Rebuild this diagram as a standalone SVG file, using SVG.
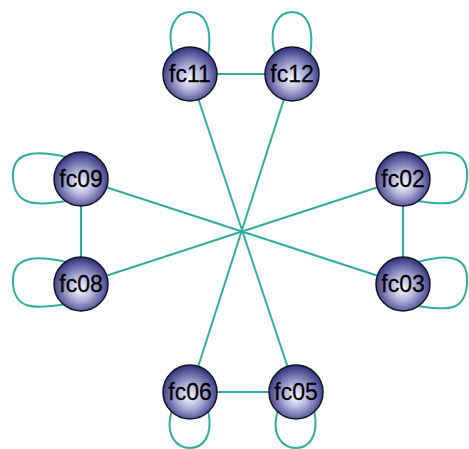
<svg xmlns="http://www.w3.org/2000/svg" width="469" height="449" viewBox="0 0 469 449">
<defs>
<radialGradient id="ball" cx="50%" cy="55%" r="55%" fx="50%" fy="60%">
<stop offset="0" stop-color="#fafafd"/>
<stop offset="0.4" stop-color="#b4b4dc"/>
<stop offset="1" stop-color="#2e2e7c"/>
</radialGradient>
<style>
.e{fill:none;stroke:#30ada0;stroke-width:2}
.n circle{fill:url(#ball);stroke:#141428;stroke-width:1.5}
.n text{font-family:"Liberation Sans",Arial,sans-serif;font-size:23px;fill:#000;stroke:#000;stroke-width:0.3;text-anchor:middle}
</style>
</defs>
<rect width="469" height="449" fill="#ffffff"/>
<g id="connectors">
<line class="e" x1="190" y1="74" x2="292" y2="74"/>
<line class="e" x1="81" y1="179" x2="81" y2="284"/>
<line class="e" x1="403" y1="179" x2="403" y2="284"/>
<line class="e" x1="190" y1="392" x2="296" y2="392"/>
<line class="e" x1="190" y1="74" x2="296" y2="392"/>
<line class="e" x1="292" y1="74" x2="190" y2="392"/>
<line class="e" x1="81" y1="179" x2="403" y2="284"/>
<line class="e" x1="81" y1="284" x2="403" y2="179"/>
<path class="e" transform="translate(190,74)" d="M -16,-18 C -26,-48 -12,-62 0,-62 C 14,-62 23,-48 18,-18"/>
<path class="e" transform="translate(292,74)" d="M -16,-18 C -26,-48 -12,-62 0,-62 C 14,-62 23,-48 18,-18"/>
<path class="e" transform="translate(190,392)" d="M -18,18 C -26,45 -12,56 0,56 C 12,56 24,45 18,18"/>
<path class="e" transform="translate(296,392)" d="M -18,18 C -26,45 -12,56 0,56 C 12,56 24,45 18,18"/>
<path class="e" transform="translate(81,179)" d="M -15,-22 C -50,-30 -70,-26 -68,0 C -66,24 -50,28 -15,22"/>
<path class="e" transform="translate(81,284)" d="M -15,-22 C -50,-30 -70,-26 -68,0 C -66,24 -50,26 -15,20"/>
<path class="e" transform="translate(403,179)" d="M 15,-22 C 50,-32 66,-26 64,0 C 62,24 50,28 15,22"/>
<path class="e" transform="translate(403,284)" d="M 15,-22 C 50,-32 66,-26 64,0 C 62,24 50,28 15,22"/>
</g>
<g id="fc11" class="n"><circle cx="190" cy="74" r="27"/><text x="190" y="82">fc11</text></g>
<g id="fc12" class="n"><circle cx="292" cy="74" r="27"/><text x="292" y="82">fc12</text></g>
<g id="fc09" class="n"><circle cx="81" cy="179" r="27"/><text x="81" y="187">fc09</text></g>
<g id="fc08" class="n"><circle cx="81" cy="284" r="27"/><text x="81" y="292">fc08</text></g>
<g id="fc02" class="n"><circle cx="403" cy="179" r="27"/><text x="403" y="187">fc02</text></g>
<g id="fc03" class="n"><circle cx="403" cy="284" r="27"/><text x="403" y="292">fc03</text></g>
<g id="fc06" class="n"><circle cx="190" cy="392" r="27"/><text x="190" y="400">fc06</text></g>
<g id="fc05" class="n"><circle cx="296" cy="392" r="27"/><text x="296" y="400">fc05</text></g>
</svg>
